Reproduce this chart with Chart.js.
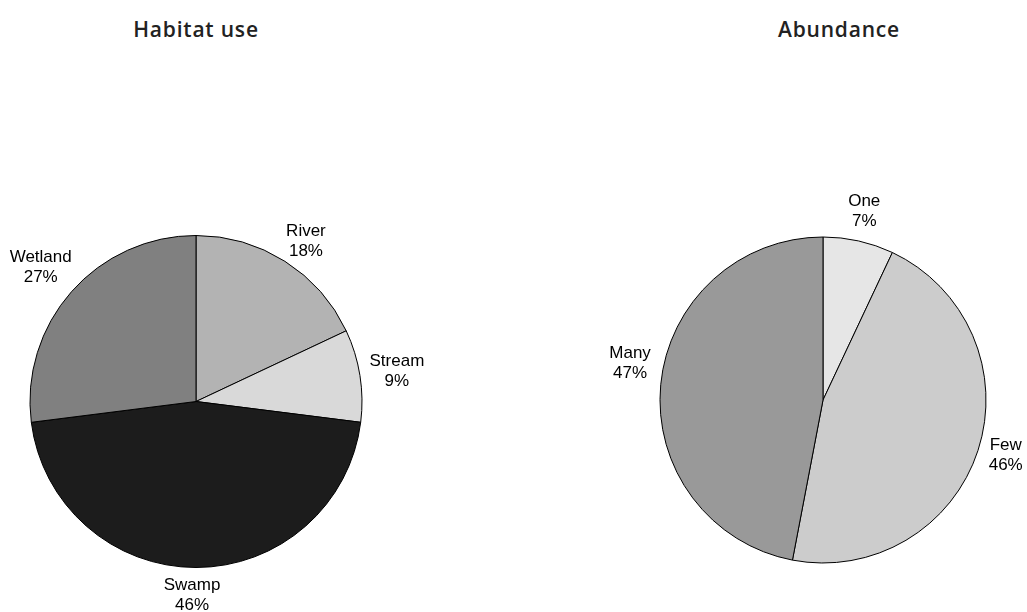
<!DOCTYPE html>
<html>
<head>
<meta charset="utf-8">
<script src="https://cdn.jsdelivr.net/npm/chart.js@4"></script>
<style>
  body { margin: 0; background: #fff; }
  #page { position: relative; width: 1027px; height: 612px; overflow: hidden; }
  .panel { position: absolute; top: 0; height: 612px; }
  .title {
    position: absolute; top: 15px; margin: 0;
    font: 600 21px 'Open Sans', sans-serif; letter-spacing: 0.8px;
    color: #222; white-space: nowrap; transform: translateX(-50%);
  }
</style>
</head>
<body>
<div id="page">
  <h2 class="title" style="left:196px">Habitat use</h2>
  <h2 class="title" style="left:839px">Abundance</h2>
  <div class="panel" style="left:0; width:460px"><canvas id="habitat"></canvas></div>
  <div class="panel" style="left:560px; width:467px"><canvas id="abundance"></canvas></div>
</div>
<script>
const habitatLabels = ['River', 'Stream', 'Swamp', 'Wetland'];
const habitatValues = [18, 9, 46, 27];
const habitatColors = ['#b3b3b3', '#d9d9d9', '#1c1c1c', '#808080'];

const abundanceLabels = ['One', 'Few', 'Many'];
const abundanceValues = [7, 46, 47];
const abundanceColors = ['#e6e6e6', '#cccccc', '#999999'];

const LINE_HEIGHT = 20;
const LABEL_GAP = 10;

// name + percent, set just outside each slice along its middle angle;
// options.shift moves a single label by [dx, dy]
const outsideLabels = {
  id: 'outsideLabels',
  afterDatasetsDraw(chart, args, options) {
    const ctx = chart.ctx;
    const meta = chart.getDatasetMeta(0);
    const values = chart.data.datasets[0].data;
    const total = values.reduce((a, b) => a + b, 0);
    const shift = options.shift || {};
    ctx.save();
    ctx.font = '17px "Liberation Sans", Arial, sans-serif';
    ctx.fillStyle = '#000';
    ctx.textAlign = 'center';
    ctx.textBaseline = 'middle';
    meta.data.forEach((arc, i) => {
      const {x, y, startAngle, endAngle, outerRadius} =
        arc.getProps(['x', 'y', 'startAngle', 'endAngle', 'outerRadius'], true);
      const name = chart.data.labels[i];
      const mid = (startAngle + endAngle) / 2;
      const lines = [name, Math.round(values[i] / total * 100) + '%'];
      const w = Math.max(...lines.map(t => ctx.measureText(t).width));
      const h = lines.length * LINE_HEIGHT;
      const [dx, dy] = shift[name] || [0, 0];
      const px = x + (outerRadius + LABEL_GAP) * Math.cos(mid);
      const py = y + (outerRadius + LABEL_GAP) * Math.sin(mid);
      const cx = px + w / 2 * Math.cos(mid) + dx;
      const cy = py + h / 2 * Math.sin(mid) + dy;
      lines.forEach((t, k) => {
        ctx.fillText(t, cx, cy + (k - (lines.length - 1) / 2) * LINE_HEIGHT);
      });
    });
    ctx.restore();
  }
};

function pie({elementName, labels, data, colors, radius, padding, shift}) {
  const element = document.getElementById(elementName);
  new Chart(element, {
    type: 'pie',
    data: {
      labels,
      datasets: [{
        data,
        backgroundColor: colors,
        borderColor: '#000',
        borderWidth: 1,
      }]
    },
    options: {
      responsive: true,
      maintainAspectRatio: false,
      animation: false,
      radius,
      layout: {padding},
      plugins: {
        legend: {display: false},
        tooltip: {enabled: false},
        outsideLabels: {shift},
      },
    },
    plugins: [outsideLabels]
  });
}

pie({
  elementName: 'habitat',
  labels: habitatLabels,
  data: habitatValues,
  colors: habitatColors,
  radius: 166,
  padding: {top: 235, bottom: 44, left: 30, right: 98},
  shift: {River: [5, 5], Swamp: [-4, -2], Wetland: [0, -5]},
});

pie({
  elementName: 'abundance',
  labels: abundanceLabels,
  data: abundanceValues,
  colors: abundanceColors,
  radius: 163,
  padding: {top: 237, bottom: 49, left: 100, right: 41},
  shift: {Few: [2, -4], Many: [0, -19]},
});
</script>
</body>
</html>
